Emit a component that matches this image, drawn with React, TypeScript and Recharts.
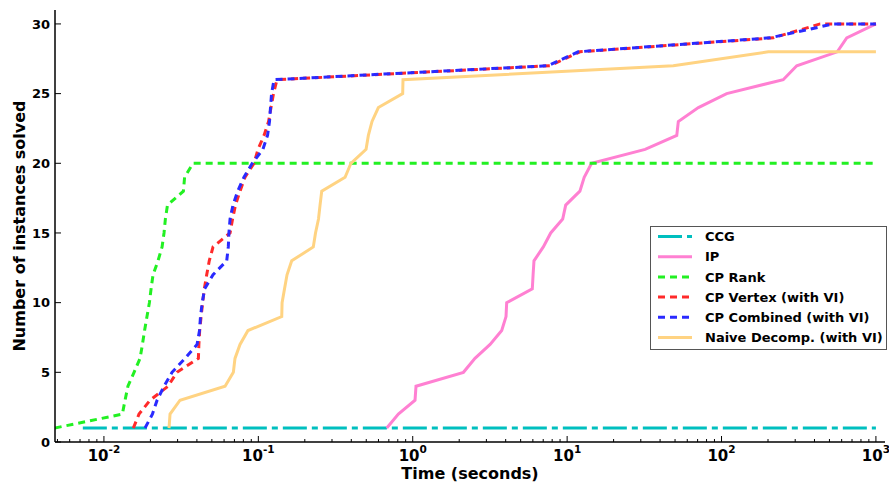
import { LineChart, Line, XAxis, YAxis, Legend, Label } from 'recharts';

// solve times (seconds) and cumulative number of instances solved, per method
const ccgTimes = [0.0073, 1000];
const ccgSolved = [1, 1];

const ipTimes = [0.679, 0.807, 1.035, 1.05, 2.13, 2.53, 3.17, 3.77, 4.02, 4.06, 5.95, 6.02, 6.1, 7.01, 7.83, 9.36, 9.79, 12.1, 12.9, 14.4, 32, 51.3, 52.5, 70.8, 108, 251, 307, 562, 647, 1000];
const ipSolved = [1, 2, 3, 4, 5, 6, 7, 8, 9, 10, 11, 12, 13, 14, 15, 16, 17, 18, 19, 20, 21, 22, 23, 24, 25, 26, 27, 28, 29, 30];

const rankTimes = [0.0048, 0.01316, 0.0137, 0.0143, 0.01567, 0.01714, 0.01775, 0.01833, 0.019, 0.0197, 0.0202, 0.0208, 0.0224, 0.0238, 0.0245, 0.025, 0.0258, 0.0327, 0.0333, 0.0378, 1000];
const rankSolved = [1, 2, 3, 4, 5, 6, 7, 8, 9, 10, 11, 12, 13, 14, 15, 16, 17, 18, 19, 20, 20];

const vertexTimes = [0.0155, 0.01687, 0.0199, 0.026, 0.0297, 0.0409, 0.0412, 0.0417, 0.0426, 0.0436, 0.0447, 0.0463, 0.0481, 0.0509, 0.0656, 0.0681, 0.0711, 0.0761, 0.082, 0.0937, 0.0995, 0.1089, 0.1165, 0.1208, 0.1254, 0.1321, 7.75, 12.1, 216, 435, 1000];
const vertexSolved = [1, 2, 3, 4, 5, 6, 7, 8, 9, 10, 11, 12, 13, 14, 15, 16, 17, 18, 19, 20, 21, 22, 23, 24, 25, 26, 27, 28, 29, 30, 30];

const combinedTimes = [0.01846, 0.0206, 0.0221, 0.0245, 0.0276, 0.0335, 0.0401, 0.0416, 0.0422, 0.0433, 0.0449, 0.0509, 0.0624, 0.0639, 0.0645, 0.0656, 0.0685, 0.0735, 0.0807, 0.0913, 0.107, 0.1147, 0.1181, 0.1199, 0.1218, 0.1264, 7.5, 11.8, 206, 530, 1000];
const combinedSolved = [1, 2, 3, 4, 5, 6, 7, 8, 9, 10, 11, 12, 13, 14, 15, 16, 17, 18, 19, 20, 21, 22, 23, 24, 25, 26, 27, 28, 29, 30, 30];

const naiveTimes = [0.0264, 0.0268, 0.0311, 0.0609, 0.0689, 0.0706, 0.0761, 0.0857, 0.1418, 0.1425, 0.1478, 0.1534, 0.1645, 0.227, 0.2346, 0.2453, 0.251, 0.2574, 0.3646, 0.398, 0.4986, 0.516, 0.545, 0.599, 0.861, 0.865, 48.7, 201, 1000];
const naiveSolved = [1, 2, 3, 4, 5, 6, 7, 8, 9, 10, 11, 12, 13, 14, 15, 16, 17, 18, 19, 20, 21, 22, 23, 24, 25, 26, 27, 28, 28];

const xMajorTicks = [0.01, 0.1, 1, 10, 100, 1000];
const xTickExponents = ['-2', '-1', '0', '1', '2', '3'];
const xMinorFactors = [2, 3, 4, 5, 6, 7, 8, 9];
const yTicks = [0, 5, 10, 15, 20, 25, 30];

const X_MIN = 0.00482;
const X_MAX = 1145;

const W = 889;
const H = 483;
const PLOT_LEFT = 55;
const PLOT_RIGHT = 885;
const PLOT_TOP = 10;
const PLOT_BOTTOM = 442;
const Y_AXIS_W = 45;
const X_AXIS_H = 30;
const FONT = '"DejaVu Sans", sans-serif';

const zip = (ts: number[], ns: number[]) => ts.map((t, i) => ({ t, n: ns[i] }));

const series = [
  { name: 'CCG', data: zip(ccgTimes, ccgSolved), color: '#00bfbf', dash: '24 5 6 5' },
  { name: 'IP', data: zip(ipTimes, ipSolved), color: '#ff80d2', dash: undefined },
  { name: 'CP Rank', data: zip(rankTimes, rankSolved), color: '#22f022', dash: '7 5' },
  { name: 'CP Vertex (with VI)', data: zip(vertexTimes, vertexSolved), color: '#ff2a2a', dash: '7 5' },
  { name: 'CP Combined (with VI)', data: zip(combinedTimes, combinedSolved), color: '#2a2aff', dash: '7 5' },
  { name: 'Naive Decomp. (with VI)', data: zip(naiveTimes, naiveSolved), color: '#ffd382', dash: undefined },
];

const xAllTicks: number[] = [];
xMajorTicks.forEach((m) => {
  if (m >= X_MIN) xAllTicks.push(m);
  xMinorFactors.forEach((f) => {
    const v = (m / 10) * f;
    if (v >= X_MIN && v <= X_MAX) xAllTicks.push(v);
  });
});
xAllTicks.sort((a, b) => a - b);

const majorIndex = (v: number) => xMajorTicks.findIndex((m) => Math.abs(m - v) / m < 1e-9);

const BottomTick = (props: any) => {
  const { x, payload } = props;
  const idx = majorIndex(payload.value);
  const major = idx >= 0;
  return (
    <g>
      <line x1={x} x2={x} y1={PLOT_BOTTOM} y2={PLOT_BOTTOM - (major ? 6 : 3)} stroke="#000" strokeWidth={1} />
      {major && (
        <text x={x} y={461} textAnchor="middle" fontFamily={FONT} fontWeight="bold" fontSize={15} fill="#000">
          10
          <tspan dy={-8} fontSize={10.5}>{xTickExponents[idx]}</tspan>
        </text>
      )}
    </g>
  );
};

const TopTick = (props: any) => {
  const { x, payload } = props;
  const major = majorIndex(payload.value) >= 0;
  return <line x1={x} x2={x} y1={PLOT_TOP} y2={PLOT_TOP + (major ? 6 : 3)} stroke="#000" strokeWidth={1} />;
};

const LeftTick = (props: any) => {
  const { y, payload } = props;
  return (
    <g>
      <line x1={PLOT_LEFT} x2={PLOT_LEFT + 6} y1={y} y2={y} stroke="#000" strokeWidth={1} />
      <text x={PLOT_LEFT - 5} y={y + 4.7} textAnchor="end" fontFamily={FONT} fontWeight="bold" fontSize={13} fill="#000">
        {payload.value}
      </text>
    </g>
  );
};

const RightTick = (props: any) => {
  const { y } = props;
  return <line x1={PLOT_RIGHT} x2={PLOT_RIGHT - 6} y1={y} y2={y} stroke="#000" strokeWidth={1} />;
};

const LegendBox = () => (
  <svg width={237} height={124} style={{ display: 'block' }}>
    <rect x={0.5} y={0.5} width={236} height={123} fill="#fff" stroke="#555" strokeWidth={1} />
    {series.map((s, i) => {
      const cy = 10.5 + i * 20.2;
      return (
        <g key={s.name}>
          <line x1={8} x2={42} y1={cy} y2={cy} stroke={s.color} strokeWidth={3} strokeDasharray={s.dash} />
          <text x={55} y={cy + 4.7} fontFamily={FONT} fontWeight="bold" fontSize={13} fill="#000">
            {s.name}
          </text>
        </g>
      );
    })}
  </svg>
);

export default function App(): JSX.Element {
  return (
    <div style={{ position: 'absolute', left: 0, top: 0, width: W, height: H, background: '#fff' }}>
      <LineChart
        width={W}
        height={H}
        margin={{
          top: PLOT_TOP,
          right: W - PLOT_RIGHT,
          bottom: H - PLOT_BOTTOM - X_AXIS_H,
          left: PLOT_LEFT - Y_AXIS_W,
        }}
      >
        <XAxis
          dataKey="t"
          type="number"
          scale="log"
          domain={[X_MIN, X_MAX]}
          allowDataOverflow
          ticks={xAllTicks}
          interval={0}
          tick={<BottomTick />}
          tickLine={false}
          height={X_AXIS_H}
          axisLine={{ stroke: '#000', strokeWidth: 1.5 }}
        >
          <Label
            content={() => (
              <text x={(PLOT_LEFT + PLOT_RIGHT) / 2} y={479} textAnchor="middle" fontFamily={FONT} fontWeight="bold" fontSize={16} fill="#000">
                Time (seconds)
              </text>
            )}
          />
        </XAxis>
        <XAxis
          xAxisId="top"
          orientation="top"
          dataKey="t"
          type="number"
          scale="log"
          domain={[X_MIN, X_MAX]}
          allowDataOverflow
          ticks={xAllTicks}
          interval={0}
          tick={<TopTick />}
          tickLine={false}
          height={0}
          axisLine={{ stroke: '#000', strokeWidth: 1.5 }}
        />
        <YAxis
          type="number"
          domain={[0, 31]}
          ticks={yTicks}
          interval={0}
          allowDataOverflow
          width={Y_AXIS_W}
          tick={<LeftTick />}
          tickLine={false}
          axisLine={{ stroke: '#000', strokeWidth: 1.5 }}
        >
          <Label
            content={() => (
              <text
                x={19}
                y={(PLOT_TOP + PLOT_BOTTOM) / 2}
                transform={`rotate(-90, 19, ${(PLOT_TOP + PLOT_BOTTOM) / 2})`}
                textAnchor="middle"
                dominantBaseline="central"
                fontFamily={FONT}
                fontWeight="bold"
                fontSize={16}
                fill="#000"
              >
                Number of instances solved
              </text>
            )}
          />
        </YAxis>
        <YAxis
          yAxisId="right"
          orientation="right"
          type="number"
          domain={[0, 31]}
          ticks={yTicks}
          interval={0}
          width={0}
          tick={<RightTick />}
          tickLine={false}
          axisLine={{ stroke: '#000', strokeWidth: 1.5 }}
        />
        <Legend
          layout="vertical"
          align="center"
          verticalAlign="middle"
          content={() => <LegendBox />}
          wrapperStyle={{ left: 650, top: 226, width: 237, height: 124 }}
        />
        {series.map((s) => (
          <Line
            key={s.name}
            name={s.name}
            data={s.data}
            dataKey="n"
            type="linear"
            stroke={s.color}
            strokeWidth={3}
            strokeDasharray={s.dash}
            dot={false}
            activeDot={false}
            isAnimationActive={false}
          />
        ))}
      </LineChart>
    </div>
  );
}
